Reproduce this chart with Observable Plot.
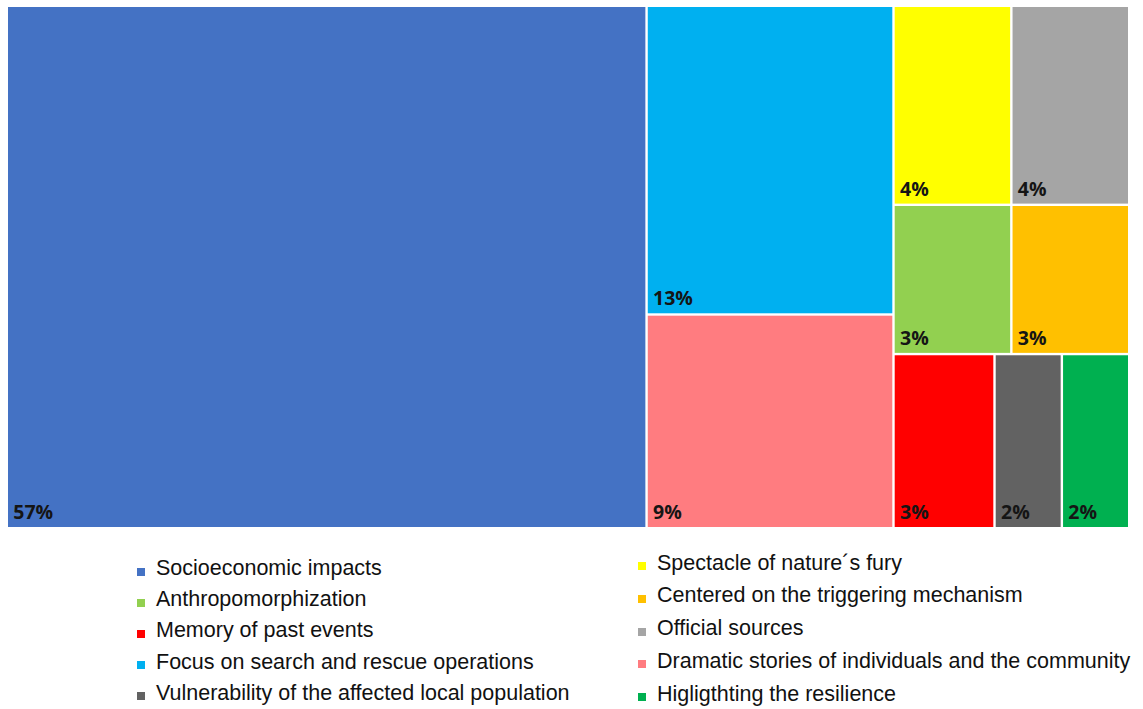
<!DOCTYPE html>
<html>
<head>
<meta charset="utf-8">
<script src="https://cdn.jsdelivr.net/npm/d3@7"></script>
<script src="https://cdn.jsdelivr.net/npm/@observablehq/plot@0.6"></script>
<style>
  html, body { margin: 0; padding: 0; background: #fff; }
  #chart svg { display: block; }
  #legend { position: relative; height: 174px; font-family: "Liberation Sans", Arial, sans-serif; font-size: 21.5px; color: #111; }
  .col { position: absolute; display: flex; flex-direction: column; }
  .item { display: flex; align-items: center; white-space: nowrap; }
  .sw { width: 8px; height: 8px; margin-right: 11px; position: relative; top: 3px; flex: none; }
</style>
</head>
<body>
<div id="chart"></div>
<div id="legend"></div>
<script>
// ---- data ----
const categories = [
  "Socioeconomic impacts",
  "Focus on search and rescue operations",
  "Dramatic stories of individuals and the community",
  "Spectacle of nature´s fury",
  "Official sources",
  "Anthropomorphization",
  "Centered on the triggering mechanism",
  "Memory of past events",
  "Vulnerability of the affected local population",
  "Higligthting the resilience"
];
const shares = [57, 13, 9, 4, 4, 3, 3, 3, 2, 2];
const colors = ["#4472C4", "#00B0F0", "#FF7C80", "#FFFF00", "#A5A5A5", "#92D050", "#FFC000", "#FF0000", "#626262", "#00B050"];
const legendLeft = [
  "Socioeconomic impacts",
  "Anthropomorphization",
  "Memory of past events",
  "Focus on search and rescue operations",
  "Vulnerability of the affected local population"
];
const legendRight = [
  "Spectacle of nature´s fury",
  "Centered on the triggering mechanism",
  "Official sources",
  "Dramatic stories of individuals and the community",
  "Higligthting the resilience"
];

// ---- treemap layout (squarified, computed in an abstract layout space) ----
const W = 2.86;
const table = categories.map((name, i) => ({name, value: shares[i], color: colors[i], label: shares[i] + "%"}));
const root = d3.hierarchy({children: table}).sum(d => d.value || 0);
d3.treemap().tile(d3.treemapSquarify.ratio(1)).size([W, 1]).round(false)(root);
const cells = root.leaves().map(n => ({...n.data, x0: n.x0, x1: n.x1, y0: n.y0, y1: n.y1}));

const plot = Plot.plot({
  width: 1143,
  height: 535,
  marginLeft: 6.8,
  marginRight: 13.8,
  marginTop: 5.8,
  marginBottom: 6.8,
  x: {domain: [0, W], axis: null},
  y: {domain: [0, 1], reverse: true, axis: null},
  color: {domain: categories, range: colors},
  marks: [
    Plot.rect(cells, {x1: "x0", x2: "x1", y1: "y0", y2: "y1", fill: "name", inset: 1.2}),
    Plot.text(cells, {x: "x0", y: "y1", text: "label", dx: 6, dy: -16, textAnchor: "start", lineAnchor: "middle",
      fontFamily: "'Open Sans', sans-serif", fontWeight: 700, fontSize: 19.5, fill: "#151515"})
  ]
});
document.getElementById("chart").appendChild(plot);

// ---- legend ----
const legend = document.getElementById("legend");
function makeCol(names, left, top, gap) {
  const col = document.createElement("div");
  col.className = "col";
  col.style.left = left + "px";
  col.style.top = top + "px";
  col.style.rowGap = gap + "px";
  for (const name of names) {
    const it = document.createElement("div");
    it.className = "item";
    it.style.height = "23px";
    const sw = document.createElement("span");
    sw.className = "sw";
    sw.style.background = colors[categories.indexOf(name)];
    const tx = document.createElement("span");
    tx.textContent = name;
    it.appendChild(sw);
    it.appendChild(tx);
    col.appendChild(it);
  }
  legend.appendChild(col);
}
makeCol(legendLeft, 137, 22, 8.2);
makeCol(legendRight, 638, 16.5, 9.8);
</script>
</body>
</html>
